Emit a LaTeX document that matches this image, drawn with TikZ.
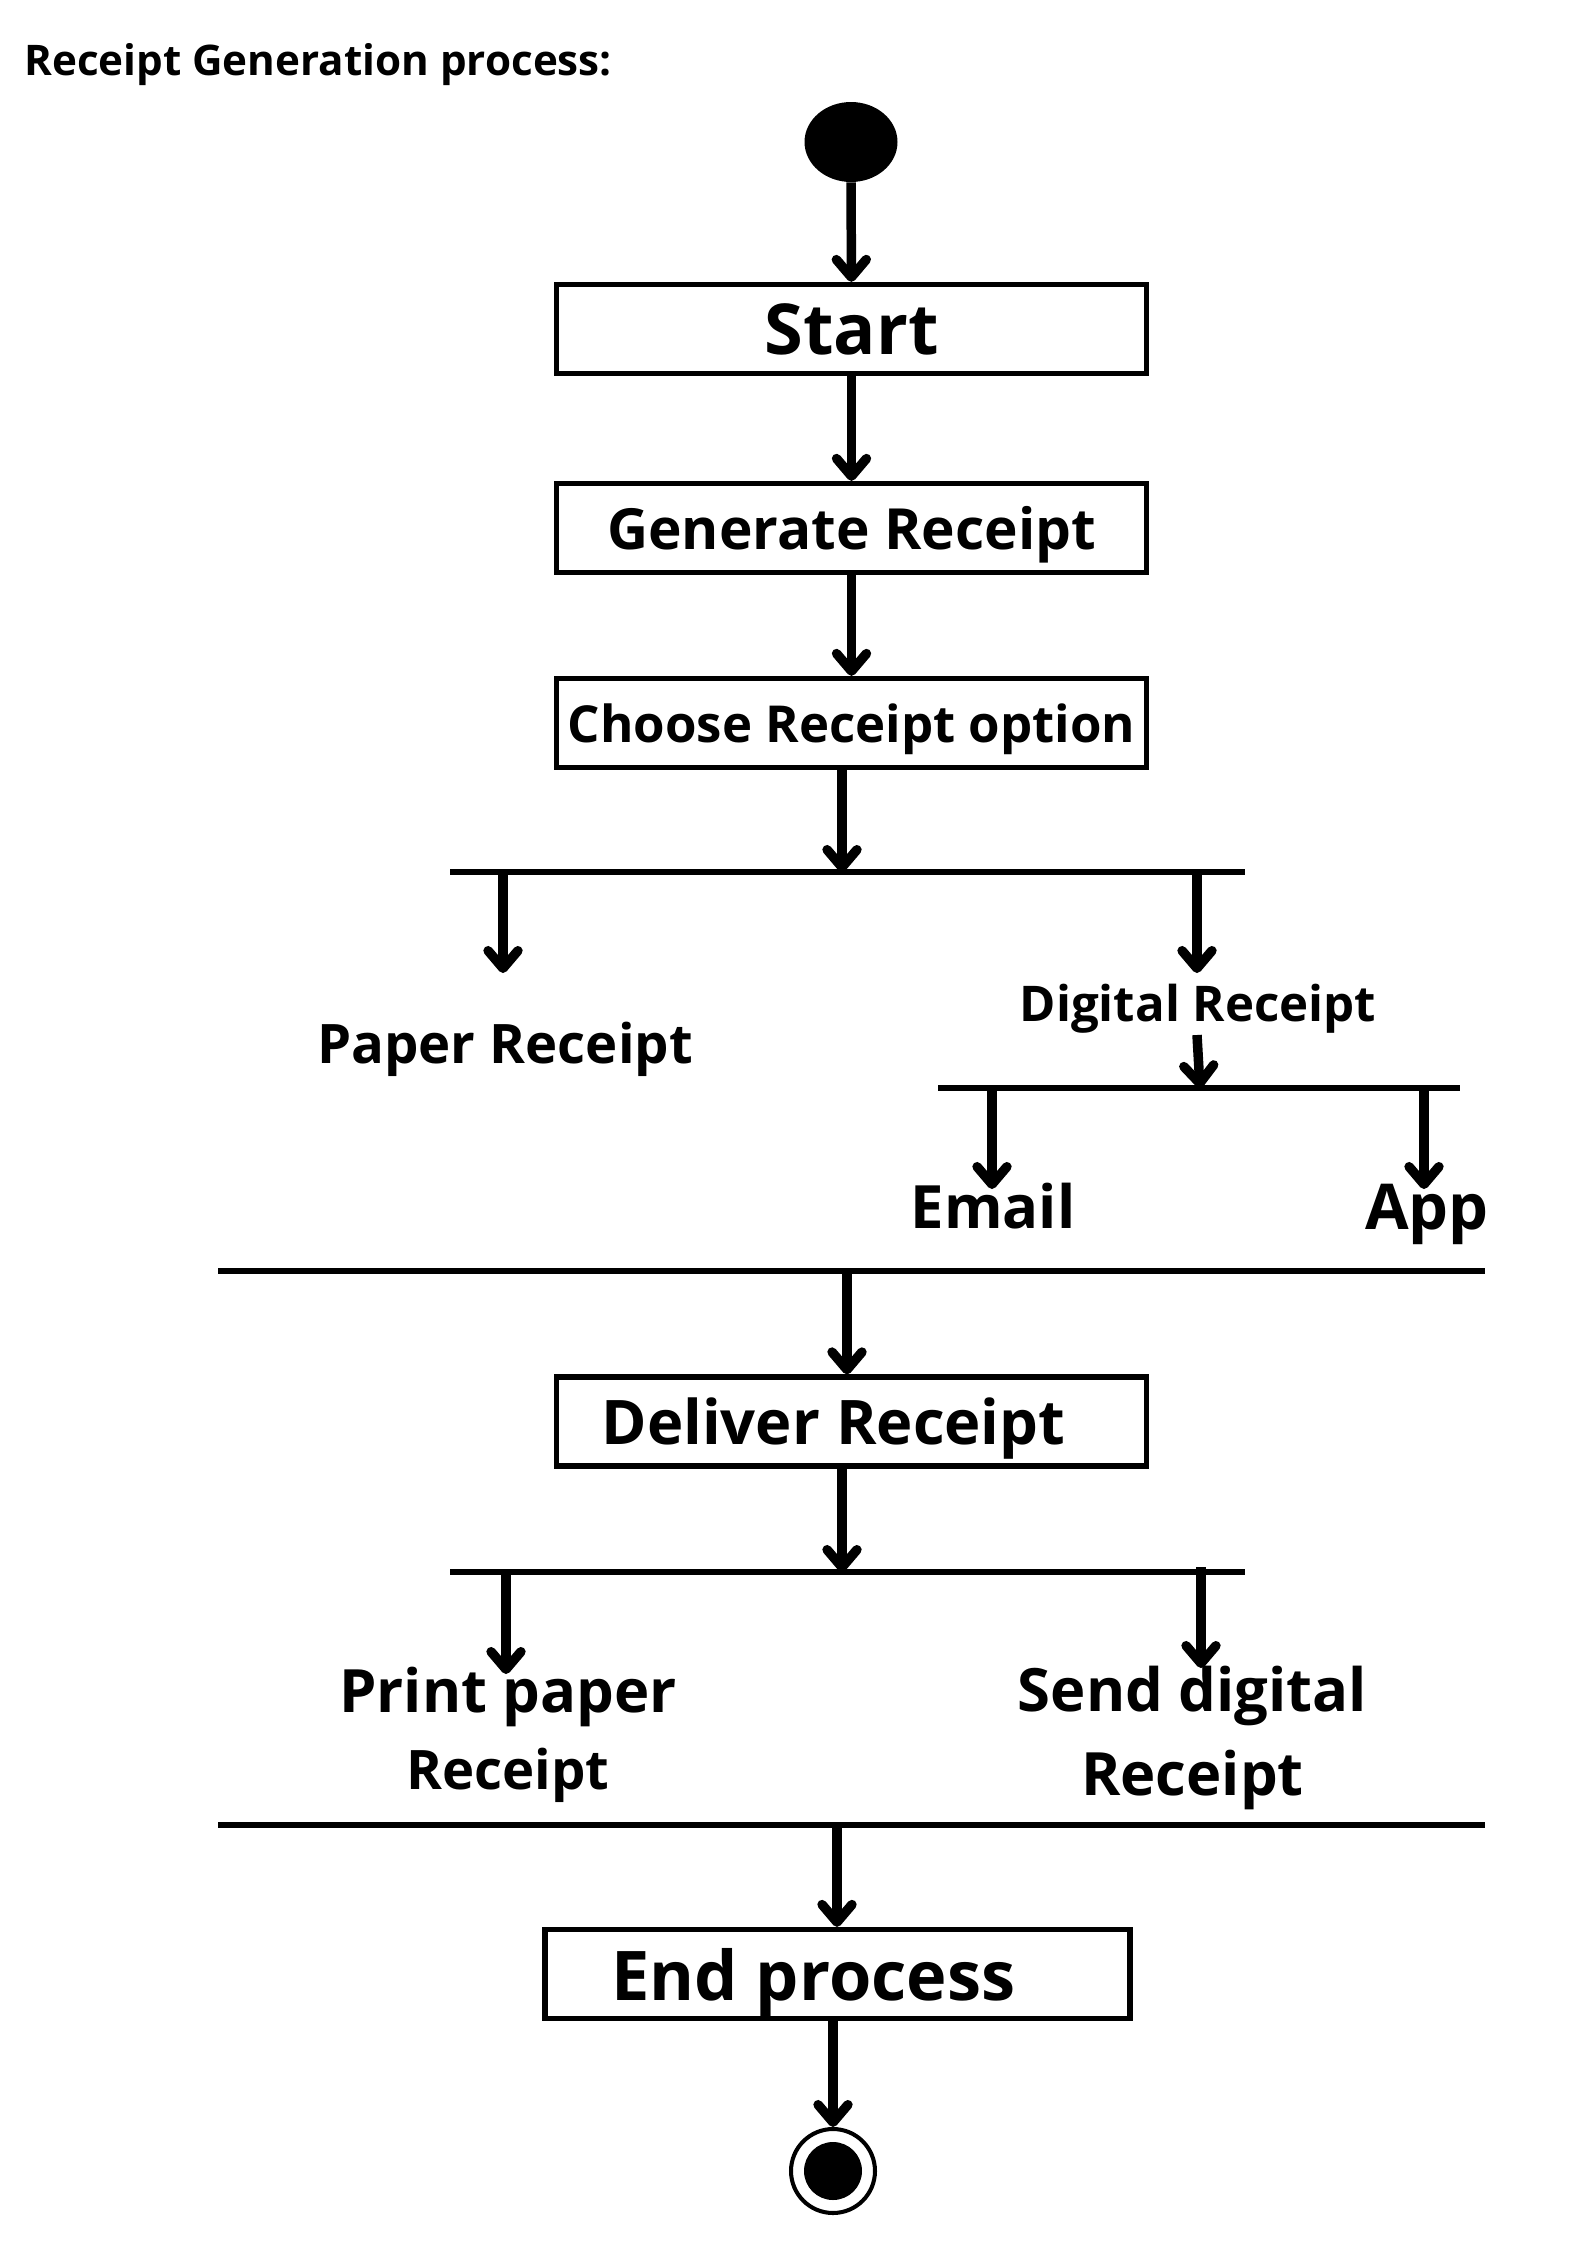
\documentclass[tikz,border=0pt]{standalone}
\usepackage{fontspec}
\setmainfont{Open Sans}
\usetikzlibrary{arrows.meta, positioning, shapes.geometric}

\begin{document}
\begin{tikzpicture}[
  x=0.02cm, y=-0.02cm,
  box/.style={draw, line width=3pt, minimum width=11.8cm, minimum height=1.78cm, inner sep=0pt, text depth=0pt},
  lbl/.style={inner sep=0pt, align=center},
  arrow/.style={line width=5.4pt, -{Straight Barb[length=10pt, width=17pt, round]}},
  bar/.style={line width=3pt}
]
\useasboundingbox (0,0) rectangle (1587,2245);

% Nodes
\node[anchor=base west, inner sep=0pt, font=\bfseries\fontsize{24}{28}\selectfont] (title) at (24,75) {Receipt Generation process:};
\node[ellipse, fill, minimum width=1.86cm, minimum height=1.6cm, inner sep=0pt] (init) at (851,142) {};
\node[box, font=\bfseries\fontsize{40}{48}\selectfont] (start) at (851.5,329) {Start};
\node[box, font=\bfseries\fontsize{32.3}{40}\selectfont] (gen) at (851.5,528) {Generate Receipt};
\node[box, font=\bfseries\fontsize{29}{35}\selectfont] (choose) at (851.5,723) {Choose Receipt option};
\node[lbl, font=\bfseries\fontsize{31}{37}\selectfont] (paper) at (505,1049) {Paper Receipt};
\node[lbl, font=\bfseries\fontsize{28}{34}\selectfont] (digital) at (1198,1009) {Digital Receipt};
\node[lbl, font=\bfseries\fontsize{34}{40}\selectfont] (email) at (993,1206) {Email};
\node[lbl, font=\bfseries\fontsize{36}{42}\selectfont] (app) at (1427,1214) {App};
\node[box, font=\bfseries\fontsize{35}{42}\selectfont] (deliver) at (851.5,1421.5) {Deliver Receipt\kern20.5pt};
\node[lbl, font=\bfseries\fontsize{34}{44}\selectfont] (print) at (508,1735) {Print paper\\\fontsize{31}{44}\selectfont Receipt};
\node[lbl, font=\bfseries\fontsize{34}{48}\selectfont] (send) at (1192.5,1738) {Send digital\\Receipt};
\node[box, minimum width=11.7cm, font=\bfseries\fontsize{39}{46}\selectfont] (stop) at (837.5,1974) {End process\kern27.5pt};
\node[circle, draw, line width=2.3pt, minimum size=1.68cm, inner sep=0pt,
  path picture={\fill (path picture bounding box.center) circle (0.58cm);}] (fin) at (833,2171) {};

% Bars
\coordinate (j1) at (842,872);
\coordinate (j2) at (1200,1088);
\coordinate (j3) at (847,1271);
\coordinate (j4) at (842,1572);
\coordinate (j5) at (837,1825);
\draw[bar] (450,872) -- (1245,872);
\draw[bar] (938,1088) -- (1460,1088);
\draw[bar] (218,1271) -- (1485,1271);
\draw[bar] (450,1572) -- (1245,1572);
\draw[bar] (218,1825) -- (1485,1825);

% Branch ends
\coordinate (a1) at (503,872);  \coordinate (a1e) at (503,973);
\coordinate (a2) at (1197,872); \coordinate (a2e) at (1197,973);
\coordinate (a3) at (992,1088); \coordinate (a3e) at (992,1189);
\coordinate (a4) at (1424,1088); \coordinate (a4e) at (1424,1189);
\coordinate (a5) at (506,1572); \coordinate (a5e) at (506,1674);
\coordinate (a6) at (1201,1567); \coordinate (a6e) at (1201,1668);
\coordinate (a7) at (1197,1035);

% Pointers
\draw[arrow] (init) -- (start);
\draw[arrow] (start) -- (gen);
\draw[arrow] (gen) -- (choose);
\draw[arrow] (choose.south -| j1) -- (j1);
\draw[arrow] (a1) -- (a1e);
\draw[arrow] (a2) -- (a2e);
\draw[arrow] (a7) -- (j2);
\draw[arrow] (a3) -- (a3e);
\draw[arrow] (a4) -- (a4e);
\draw[arrow] (j3) -- (deliver.north -| j3);
\draw[arrow] (deliver.south -| j4) -- (j4);
\draw[arrow] (a5) -- (a5e);
\draw[arrow] (a6) -- (a6e);
\draw[arrow] (j5) -- (stop.north -| j5);
\draw[arrow] (stop.south -| fin) -- (fin);
\end{tikzpicture}
\end{document}
